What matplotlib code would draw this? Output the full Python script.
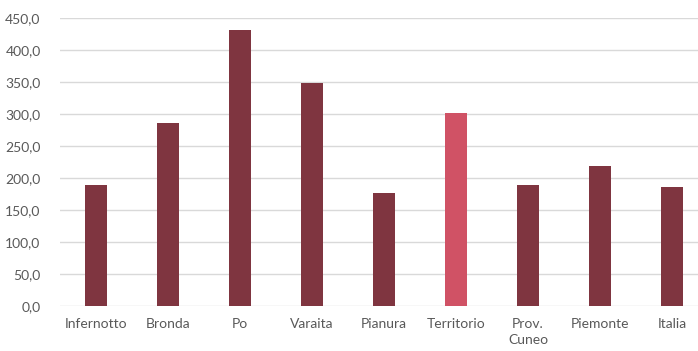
import matplotlib.pyplot as plt
from matplotlib.ticker import FuncFormatter

categories = ["Infernotto", "Bronda", "Po", "Varaita", "Pianura",
              "Territorio", "Prov.\nCuneo", "Piemonte", "Italia"]
values = [188.6, 286.0, 432.0, 348.5, 176.0, 301.0, 188.6, 219.0, 186.5]
highlight = "Territorio"

dark = "#7F3540"
light = "#D05265"
colors = [light if c == highlight else dark for c in categories]

plt.rcParams['font.family'] = ['Lato', 'DejaVu Sans']

W, H = 698, 351
fig = plt.figure(figsize=(W / 100, H / 100), dpi=100)
# axes spans past the right edge, like the original crop
left, right = 60, 708
bottom, top = 306, 18
ax = fig.add_axes([left / W, 1 - bottom / H, (right - left) / W, (bottom - top) / H])

x = range(len(categories))
ax.bar(x, values, width=0.31, color=colors, zorder=3)

ax.set_ylim(0, 450)
ax.set_xlim(-0.5, len(categories) - 0.5)
ax.set_yticks(range(0, 451, 50))
ax.yaxis.set_major_formatter(FuncFormatter(lambda v, p: f"{v:.1f}".replace(".", ",")))
ax.set_xticks(list(x))
ax.set_xticklabels(categories, linespacing=1.3)

ax.grid(axis="y", color="#D9D9D9", linewidth=1, zorder=0)
for s in ax.spines.values():
    s.set_visible(False)
ax.tick_params(axis="both", length=0, labelsize=10, labelcolor="#595959")
ax.tick_params(axis="y", pad=14)
ax.tick_params(axis="x", pad=9)

fig.savefig("out.png", dpi=100)
